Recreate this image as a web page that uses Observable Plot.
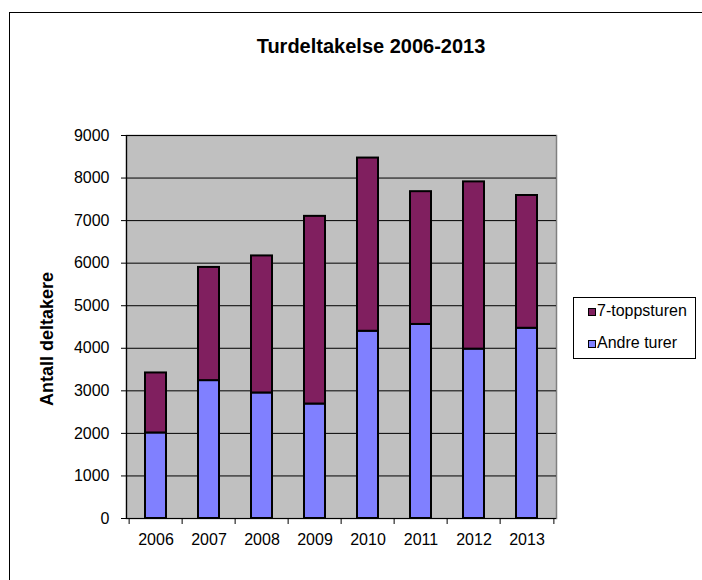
<!DOCTYPE html>
<html>
<head>
<meta charset="utf-8">
<script src="https://cdn.jsdelivr.net/npm/d3@7"></script>
<script src="https://cdn.jsdelivr.net/npm/@observablehq/plot@0.6"></script>
<style>
  html, body { margin: 0; padding: 0; background: #fff; overflow: hidden; }
  #wrap { position: relative; width: 702px; height: 580px; overflow: hidden; font-family: "Liberation Sans", Arial, sans-serif; color: #000; }
  #border { position: absolute; left: 9px; top: 12px; width: 1000px; height: 1000px; border-left: 1.5px solid #000; border-top: 1.5px solid #000; }
  #chart { position: absolute; left: 0; top: 0; }
  #title { position: absolute; left: 371px; top: 36px; transform: translateX(-50%); font-weight: bold; font-size: 20px; line-height: 20px; white-space: nowrap; }
  #ylabel { position: absolute; left: 47px; top: 339px; transform: translate(-50%, -50%) rotate(-90deg); font-weight: bold; font-size: 18px; line-height: 18px; white-space: nowrap; }
  #legend { position: absolute; left: 573px; top: 297px; width: 121px; height: 60px; border: 1px solid #000; background: #fff; }
  .item { position: absolute; left: 14px; font-size: 16px; line-height: 16px; white-space: nowrap; }
  .sw { display: inline-block; width: 6px; height: 6px; border: 1px solid #000; margin-right: 1px; vertical-align: 0px; }
</style>
</head>
<body>
<div id="wrap">
  <div id="border"></div>
  <div id="chart"></div>
  <div id="title"></div>
  <div id="ylabel"></div>
  <div id="legend"></div>
</div>
<script>
const years = ["2006", "2007", "2008", "2009", "2010", "2011", "2012", "2013"];
const andreTurer = [2010, 3240, 2950, 2690, 4400, 4560, 3980, 4470];
const toppsturen = [1410, 2660, 3220, 4410, 4070, 3120, 3930, 3120];
const seriesNames = ["Andre turer", "7-toppsturen"];
const seriesColors = ["#8080ff", "#801f5f"];
const yTicks = [0, 1000, 2000, 3000, 4000, 5000, 6000, 7000, 8000, 9000];
const titleText = "Turdeltakelse 2006-2013";
const yLabelText = "Antall deltakere";

const data = years.flatMap((y, i) => [
  {year: y, serie: seriesNames[0], value: andreTurer[i]},
  {year: y, serie: seriesNames[1], value: toppsturen[i]}
]);

const W = 702, H = 580, mL = 126, mR = 146, mT = 135, mB = 62;
const pIn = 0.6, pOut = 0.3;
const step = (W - mL - mR) / (years.length - pIn + 2 * pOut);

const chart = Plot.plot({
  width: W, height: H,
  marginLeft: mL, marginRight: mR, marginTop: mT, marginBottom: mB,
  style: {fontFamily: "'Liberation Sans', Arial, sans-serif", fontSize: "16px", color: "black", background: "transparent", overflow: "visible"},
  x: {domain: years, paddingInner: pIn, paddingOuter: pOut, label: null},
  y: {domain: [0, 9000], label: null},
  color: {domain: seriesNames, range: seriesColors},
  marks: [
    Plot.frame({fill: "#c0c0c0", stroke: "#808080", strokeWidth: 1.5}),
    Plot.gridY(yTicks, {stroke: "black", strokeOpacity: 1}),
    Plot.barY(data, {x: "year", y: "value", fill: "serie", z: "serie", order: seriesNames, stroke: "black", strokeWidth: 2}),
    Plot.ruleY([0], {stroke: "black", strokeWidth: 1.2}),
    Plot.frame({anchor: "left", stroke: "black", strokeWidth: 1.2}),
    Plot.axisY(yTicks, {tickSize: 5, tickPadding: 12, tickFormat: d3.format("d"), stroke: "black", label: null}),
    Plot.axisX({tickSize: 0, tickPadding: 15, label: null}),
    Plot.axisX(years, {tickSize: 6, fill: "none", dx: -step / 2, stroke: "black", label: null}),
    Plot.axisX([years[years.length - 1]], {tickSize: 6, fill: "none", dx: step / 2, stroke: "black", label: null})
  ]
});
document.getElementById("chart").appendChild(chart);
document.getElementById("title").textContent = titleText;
document.getElementById("ylabel").textContent = yLabelText;

const legend = document.getElementById("legend");
const legendOrder = [1, 0];
const legendTops = [5, 37];
legendOrder.forEach((k, i) => {
  const it = document.createElement("div");
  it.className = "item";
  it.style.top = legendTops[i] + "px";
  const sw = document.createElement("span");
  sw.className = "sw";
  sw.style.background = seriesColors[k];
  it.appendChild(sw);
  it.appendChild(document.createTextNode(seriesNames[k]));
  legend.appendChild(it);
});
</script>
</body>
</html>
